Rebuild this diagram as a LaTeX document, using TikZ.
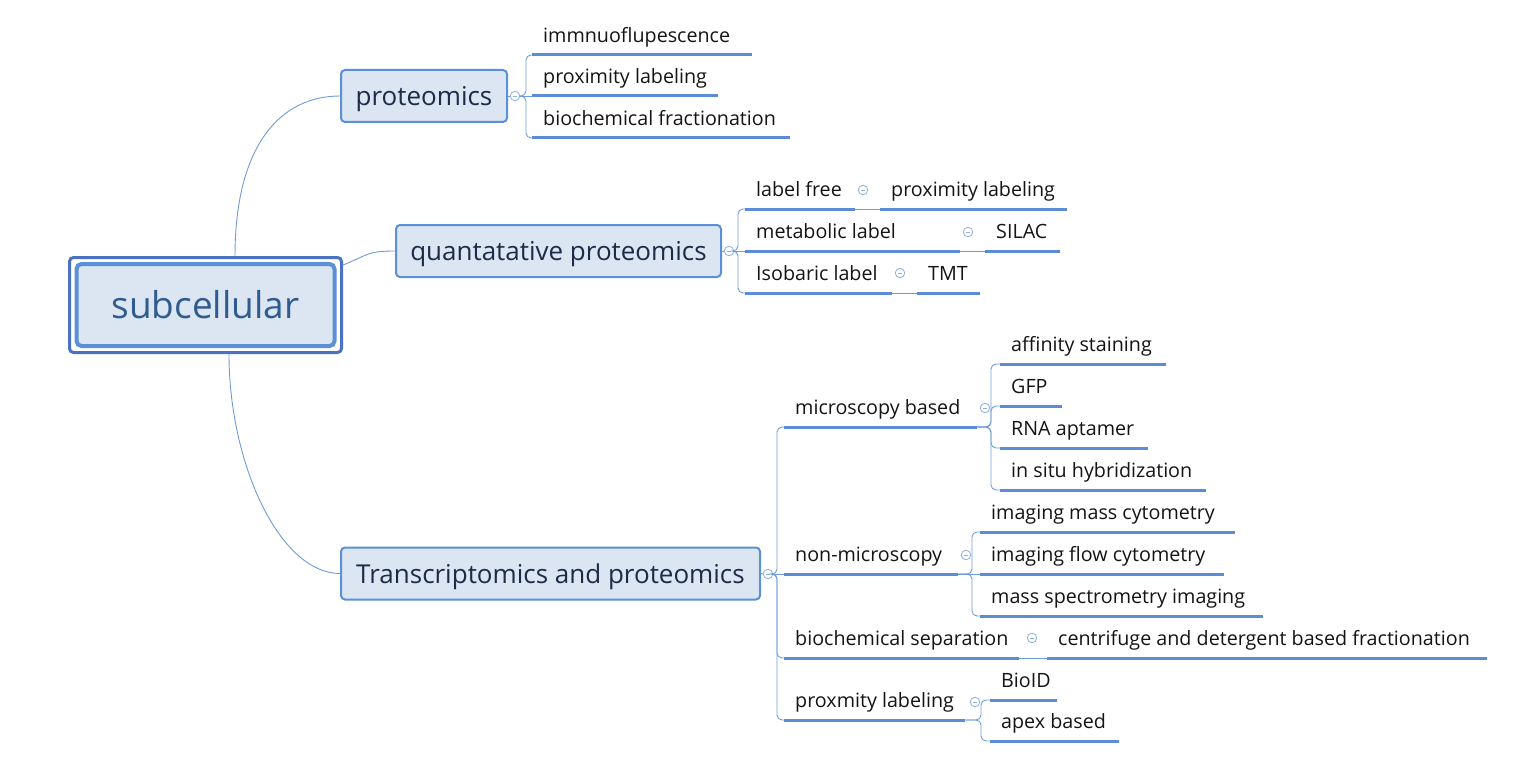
\documentclass[tikz,border=0pt]{standalone}
\usepackage{fontspec}
\setmainfont{Open Sans}
\usetikzlibrary{calc}
\definecolor{fillc}{HTML}{DCE6F2}
\definecolor{bordc}{HTML}{5B8FD6}
\definecolor{rootc}{HTML}{4A72C0}
\definecolor{connc}{HTML}{6F9CD8}
\definecolor{ulinec}{HTML}{5B8CD5}
\definecolor{collc}{HTML}{8DB0E0}
\definecolor{topicc}{HTML}{1C2B48}
\definecolor{roottc}{HTML}{2F5C8E}
\definecolor{leafc}{HTML}{141414}
\newcommand{\leaffont}{\fontsize{19.7}{22}\selectfont}
\newcommand{\topicfont}{\fontsize{26}{30}\selectfont}
\newcommand{\rootfont}{\fontsize{37}{42}\selectfont}
\begin{document}
\begin{tikzpicture}[x=1pt,y=-1pt,
  conn/.style={draw=connc, line width=0.9pt},
  uline/.style={draw=ulinec, line width=3pt},
  leaf/.style={anchor=south west, inner xsep=0pt, inner ysep=2pt,
    text height=15pt, text depth=10pt,
    font=\leaffont, text=leafc,
    execute at begin node={\hbox to #1\bgroup\hspace*{11pt}},
    execute at end node={\hfil\egroup},
    append after command={(\tikzlastnode.south west) edge[uline] (\tikzlastnode.south east)}},
  topic/.style={draw=bordc, line width=2pt, fill=fillc, rounded corners=4pt,
    font=\topicfont, text=topicc, inner sep=0pt, minimum height=52pt,
    text height=22pt, text depth=3pt},
  rootout/.style={draw=rootc, line width=3pt, fill=white, rounded corners=4pt,
    minimum width=272pt, minimum height=95pt, inner sep=0pt},
  rootin/.style={draw=bordc, line width=4pt, fill=fillc, rounded corners=5pt,
    minimum width=258pt, minimum height=82pt, inner sep=0pt,
    font=\rootfont, text=roottc},
  coll/.style={circle, draw=collc, line width=0.8pt, fill=white,
    minimum size=9.5pt, inner sep=0pt,
    path picture={\draw[collc, line width=0.7pt]
      ([xshift=-2.2pt]path picture bounding box.center) --
      ([xshift=2.2pt]path picture bounding box.center);}}
]
\useasboundingbox (0,0) rectangle (1522,770);

% root
\node[rootout] (root) at (205.5,305) {};
\node[rootin] (rootin) at (root.center) {subcellular};

% main topics
\node[topic, minimum width=166pt] (prot) at (424,96) {proteomics};
\node[topic, minimum width=325pt] (quant) at (558.5,251) {quantatative proteomics};
\node[topic, minimum width=419pt] (trans) at (550.5,573.5) {Transcriptomics and proteomics};

% root connectors
\draw[conn] ([xshift=29.5pt]root.north) .. controls +(0,-110) and +(-60,0) .. (prot.west);
\draw[conn] ([yshift=-9pt]root.north east) .. controls +(25,-10) and +(-28,0) .. (quant.west);
\draw[conn] ([xshift=23.5pt]root.south) .. controls +(0,110) and +(-60,0) .. (trans.west);

% collapse circles
\node[coll] (cprot) at (515,96) {};
\node[coll] (cquant) at (729,251) {};
\node[coll] (ctrans) at (768,574) {};
\node[coll] (cq1) at (863,190) {};
\node[coll] (cq2) at (968,232) {};
\node[coll] (cq3) at (900,273) {};
\node[coll] (ct1) at (985,408) {};
\node[coll] (ct2) at (966,555) {};
\node[coll] (ct3) at (1032,638) {};
\node[coll] (ct4) at (975,702) {};

% proteomics children
\node[leaf=220pt] (p1) at (532,55) {immnuoflupescence};
\node[leaf=186pt] (p2) at (532,96) {proximity labeling};
\node[leaf=258pt] (p3) at (532,138) {biochemical fractionation};

% quantitative children
\node[leaf=110pt] (q1) at (745,209) {label free};
\node[leaf=187pt] (q1c) at (880,209) {proximity labeling};
\node[leaf=215pt] (q2) at (745,251) {metabolic label};
\node[leaf=75pt] (q2c) at (985,251) {SILAC};
\node[leaf=147pt] (q3) at (745,293) {Isobaric label};
\node[leaf=63pt] (q3c) at (917,293) {TMT};

% transcriptomics children
\node[leaf=193pt] (t1) at (784,427) {microscopy based};
\node[leaf=174pt] (t2) at (784,574) {non-microscopy};
\node[leaf=235pt] (t3) at (784,658) {biochemical separation};
\node[leaf=181pt] (t4) at (784,720) {proxmity labeling};

% microscopy children
\node[leaf=166pt] (m1) at (1000,364) {affinity staining};
\node[leaf=62pt] (m2) at (1000,406) {GFP};
\node[leaf=148pt] (m3) at (1000,448) {RNA aptamer};
\node[leaf=206pt] (m4) at (1000,490) {in situ hybridization};

% non-microscopy children
\node[leaf=255pt] (n1) at (980,532) {imaging mass cytometry};
\node[leaf=244pt] (n2) at (980,574) {imaging flow cytometry};
\node[leaf=283pt] (n3) at (980,616) {mass spectrometry imaging};

% biochemical separation child
\node[leaf=440pt] (b1) at (1047,658) {centrifuge and detergent based fractionation};

% proximity children
\node[leaf=67pt] (x1) at (990,700) {BioID};
\node[leaf=129pt] (x2) at (990,741) {apex based};

% bracket points
\coordinate (bprot) at (526,96);
\coordinate (bquant) at (738,251);
\coordinate (btrans) at (777,574);
\coordinate (bt1) at (991,427);
\coordinate (bt2) at (972,574);
\coordinate (bt4) at (981,720);

% connectors main topics to circles
\draw[conn] (prot.east) -- (cprot.west);
\draw[conn] (quant.east) -- (cquant.west);
\draw[conn] (trans.east) -- (ctrans.west);

% proteomics bracket
\draw[conn] (cprot.east) -- (p2.south west);
\foreach \c in {p1,p3} \draw[conn, rounded corners=5pt] (cprot.east) -- (bprot) |- (\c.south west);

% quantitative bracket
\draw[conn] (cquant.east) -- (q2.south west);
\foreach \c in {q1,q3} \draw[conn, rounded corners=5pt] (cquant.east) -- (bquant) |- (\c.south west);
\draw[conn] (q1.south east) -- (q1c.south west);
\draw[conn] (q2.south east) -- (q2c.south west);
\draw[conn] (q3.south east) -- (q3c.south west);

% transcriptomics bracket
\draw[conn] (ctrans.east) -- (t2.south west);
\foreach \c in {t1,t3,t4} \draw[conn, rounded corners=5pt] (ctrans.east) -- (btrans) |- (\c.south west);

% microscopy bracket
\foreach \c in {m1,m2,m3,m4} \draw[conn, rounded corners=5pt] (t1.south east) -- (bt1) |- (\c.south west);

% non-microscopy bracket
\draw[conn] (t2.south east) -- (n2.south west);
\foreach \c in {n1,n3} \draw[conn, rounded corners=5pt] (t2.south east) -- (bt2) |- (\c.south west);

% biochemical separation
\draw[conn] (t3.south east) -- (b1.south west);

% proximity bracket
\foreach \c in {x1,x2} \draw[conn, rounded corners=5pt] (t4.south east) -- (bt4) |- (\c.south west);
\end{tikzpicture}
\end{document}
